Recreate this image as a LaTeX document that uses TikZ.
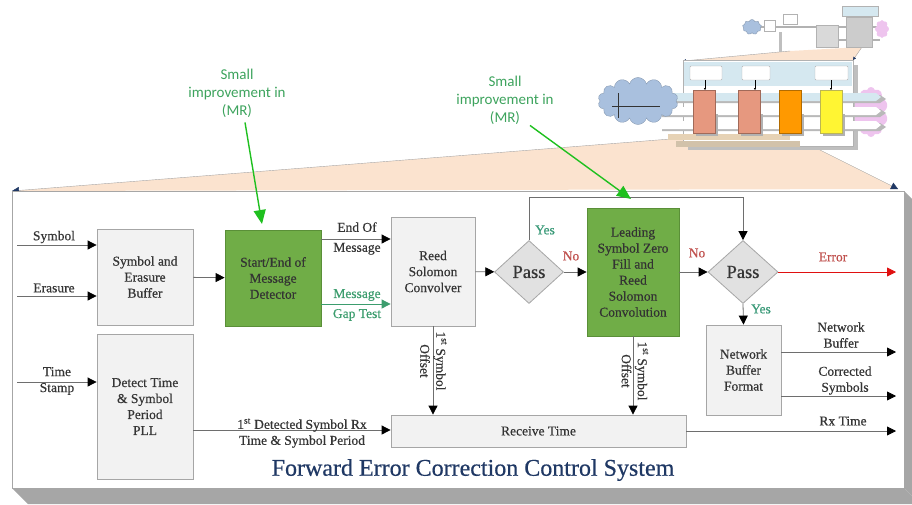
\documentclass[tikz,border=0pt]{standalone}
\usepackage{fontspec}
\setmainfont{Liberation Serif}
\newfontfamily\labelfont{Liberation Serif}[FakeBold=0.5]
\newfontfamily\notefont{Carlito}
\usetikzlibrary{shapes,arrows.meta}
\definecolor{boxgray}{HTML}{F2F2F2}
\definecolor{edgegray}{HTML}{A6A6A6}
\definecolor{linegray}{HTML}{6E6E6E}
\definecolor{txtgray}{HTML}{353535}
\definecolor{fecgreen}{HTML}{70AD47}
\definecolor{fecgreenedge}{HTML}{5A8F38}
\definecolor{notegreen}{HTML}{1FC01F}
\definecolor{notetext}{HTML}{3DA35D}
\definecolor{gapgreen}{HTML}{3C9D6E}
\definecolor{yesteal}{HTML}{3A9A78}
\definecolor{nored}{HTML}{C0504D}
\definecolor{errred}{HTML}{E01010}
\definecolor{titlenavy}{HTML}{1F3864}
\definecolor{peach}{HTML}{FBE3CF}
\definecolor{thumbblue}{HTML}{D5E8F0}
\definecolor{cloudblue}{HTML}{A9C0DE}
\definecolor{cloudpink}{HTML}{EEC4EE}
\definecolor{tanbar}{HTML}{E6D2B5}
\tikzset{every edge/.style={draw=linegray,line width=0.8pt,
		-{Triangle[length=9pt,width=9pt,color=black]}}}
\tikzstyle{block}=[rectangle,draw=edgegray,fill=boxgray,line width=0.8pt,text=txtgray,align=center,inner sep=0pt,font=\labelfont\fontsize{13.5}{16}\selectfont]
\tikzstyle{greenblock}=[block,draw=fecgreenedge,fill=fecgreen,text=black!80]
\tikzstyle{passdiamond}=[diamond,draw=edgegray,fill=boxgray!85!gray,line width=0.8pt,text=txtgray,inner sep=0pt,font=\labelfont\fontsize{18.5}{20}\selectfont]
\tikzstyle{lbl}=[text=txtgray,align=center,inner sep=0pt,font=\labelfont\fontsize{13.5}{16}\selectfont]
\tikzstyle{note}=[text=notetext,align=center,inner sep=0pt,font=\notefont\fontsize{15}{18}\selectfont]
\tikzstyle{chip}=[rectangle,line width=0.5pt,minimum width=22pt,minimum height=43pt]

\begin{document}
\begin{tikzpicture}[x=1pt,y=-1pt]
	\useasboundingbox (0,0) rectangle (912,504);
	\clip (0,0) rectangle (912,504);

	% zoom wedges
	\fill[peach] (12,191) -- (683,138) -- (790,135) -- (898,189) -- cycle;
	\fill[peach] (683,61) -- (790,51) -- (862,47) -- (853,61) -- cycle;
	\draw[gray!70,-{Triangle[length=7pt,width=7pt,color=titlenavy]}] (683,138) -- (12,191);
	\draw[gray!70,-{Triangle[length=7pt,width=7pt,color=titlenavy]}] (790,135) -- (898,189);
	\draw[gray!70,-{Triangle[length=3pt,width=3pt,color=titlenavy]}] (790,51) -- (683,61);
	\draw[gray!70,-{Triangle[length=3pt,width=3pt,color=titlenavy]}] (862,47) -- (853,60);

	% top overview
	\draw[gray!60,line width=1.5pt] (760,27) -- (880,27);
	\draw[gray!60,line width=1.5pt] (838,40) -- (880,40);
	\draw[gray!50,line width=3pt] (780,32) -- (780,52);
	\node[cloud,cloud puffs=9,fill=cloudblue,draw=cloudblue!80!black,minimum width=19pt,minimum height=15pt,inner sep=0pt] (cl0) at (752,27) {};
	\node[rectangle,draw=gray!60,fill=white,minimum width=11pt,minimum height=11pt] (tb0) at (770,26) {};
	\node[rectangle,draw=gray!60,fill=white,minimum width=14pt,minimum height=10pt] (tb1) at (790,19) {};
	\node[rectangle,draw=gray!60,fill=gray!30,minimum width=22pt,minimum height=22pt] (tb2) at (827,36) {};
	\node[rectangle,draw=gray!60,fill=gray!40,minimum width=26pt,minimum height=30pt] (tb3) at (859,32) {};
	\node[rectangle,draw=gray!60,fill=thumbblue,minimum width=36pt,minimum height=10pt] (tb4) at (860,11) {};
	\node[cloud,cloud puffs=8,fill=cloudpink,draw=none,minimum width=14pt,minimum height=18pt,inner sep=0pt] (cl1) at (882,29) {};

	% receiver overview
	\fill[gray!50] (688,65) rectangle (858,150);
	\draw[gray!60,fill=white] (683,60) rectangle (853,146);
	\fill[thumbblue] (684,62) rectangle (852,86);
	\foreach \a/\b in {690/722,742/770,815/848}
		\draw[gray!60,fill=white,rounded corners=1pt] (\a,66) rectangle (\b,80);
	\fill[tanbar] (668,134) rectangle (790,140);
	\fill[tanbar!80!gray] (676,141) rectangle (800,147);
	\node[cloud,cloud puffs=10,fill=cloudpink,draw=none,minimum width=34pt,minimum height=50pt,inner sep=0pt] (cl3) at (871,112) {};
	\foreach \y/\c in {97/thumbblue,111/white,125/white} {
		\fill[gray!55] (662,\y-2) -- (880,\y-2) -- (886,\y+2) -- (880,\y+6) -- (662,\y+6) -- cycle;
		\fill[\c] (660,\y-4) -- (876,\y-4) -- (881,\y) -- (876,\y+4) -- (660,\y+4) -- cycle;
	}
	\node[cloud,cloud puffs=14,fill=cloudblue,draw=cloudblue!80!black,minimum width=80pt,minimum height=47pt,inner sep=0pt] (cl2) at (638,101) {};
	\draw[black!80] (618,93) -- (618,118) (612,106) -- (660,106);
	\foreach \x/\c in {704/red!35!brown!60!white,749/red!35!brown!60!white,790/orange!80!yellow,831/yellow!80!white} {
		\fill[gray!60] (\x-8,114) rectangle (\x+14,136);
		\node[chip,fill=\c,draw=\c!70!black] at (\x,111.5) {};
	}
	\foreach \x in {705,755,831}
		\draw[black,-{Triangle[length=2pt,width=2pt]}] (\x,80) -- (\x,90);

	% panel
	\fill[gray!70] (12,488) -- (904,488) -- (920,504) -- (28,504) -- cycle;
	\fill[gray!70] (904,191) -- (920,207) -- (920,504) -- (904,488) -- cycle;
	\draw[edgegray,fill=white] (12,191) rectangle (904,488);

	% blocks
	\node[block,minimum width=96pt,minimum height=96pt] (buf) at (145,277) {Symbol and\\Erasure\\Buffer};
	\node[greenblock,minimum width=96pt,minimum height=96pt] (sem) at (273,278) {Start/End of\\Message\\Detector};
	\node[block,minimum width=84pt,minimum height=109pt] (rsc) at (433,271.5) {Reed\\Solomon\\Convolver};
	\node[block,minimum width=96pt,minimum height=145pt] (pll) at (145,406.5) {Detect Time\\\& Symbol\\Period\\PLL};
	\node[block,minimum width=295pt,minimum height=32pt] (rxt) at (538.5,431) {Receive Time};
	\node[passdiamond,minimum width=69pt,minimum height=63pt] (pass1) at (529,272) {Pass};
	\node[greenblock,minimum width=92pt,minimum height=128pt] (lsz) at (633,272) {Leading\\Symbol Zero\\Fill and\\Reed\\Solomon\\Convolution};
	\node[passdiamond,minimum width=70pt,minimum height=63pt] (pass2) at (743,272) {Pass};
	\node[block,minimum width=75pt,minimum height=90pt] (nbf) at (743.5,370) {Network\\Buffer\\Format};

	% line ends
	\coordinate (symin) at (17,245);
	\coordinate (erain) at (17,296);
	\coordinate (tsin) at (17,382);
	\coordinate (eom) at (356,239);
	\coordinate (gap) at (356,304);
	\coordinate (ytop) at (743,197);
	\coordinate (errout) at (896,272);
	\coordinate (nbout) at (896,352);
	\coordinate (csout) at (896,396);
	\coordinate (rxout) at (896,431);
	\coordinate (rxline) at (300,430);

	\draw (symin) edge (symin -| buf.west);
	\draw (erain) edge (erain -| buf.west);
	\draw (tsin) edge (tsin -| pll.west);
	\draw (buf) edge (sem);
	\draw (sem.east |- eom) edge (rsc.west |- eom);
	\draw (sem.east |- gap) edge[draw=gapgreen,-{Triangle[length=9pt,width=9pt,color=gapgreen]}] (rsc.west |- gap);
	\draw (rsc) edge (pass1);
	\draw (pass1) edge (lsz);
	\draw[draw=linegray,line width=0.8pt] (pass1.north) |- (ytop);
	\draw (ytop) edge (pass2.north);
	\draw (lsz) edge (pass2);
	\draw (pass2.east) edge[draw=errred,-{Triangle[length=9pt,width=9pt,color=errred]}] (errout);
	\draw (pass2.south) edge (nbf.north);
	\draw (nbf.east |- nbout) edge (nbout);
	\draw (nbf.east |- csout) edge (csout);
	\draw (rxt.east |- rxout) edge (rxout);
	\draw (pll.east |- rxline) edge (rxt.west |- rxline);
	\draw (rsc.south) edge (rsc.south |- rxt.north);
	\draw (lsz.south) edge (lsz.south |- rxt.north);

	% labels
	\node[lbl] (lsym) at (54,237) {Symbol};
	\node[lbl] (lera) at (54,288) {Erasure};
	\node[lbl] (lts) at (57,381) {Time\\Stamp};
	\node[lbl] (leom) at (357,238.5) {End Of\\[4pt]Message};
	\node[lbl,text=gapgreen] (lgap) at (357,305) {Message\\[4pt]Gap Test};
	\node[lbl,text=yesteal] (lyes1) at (545,230) {Yes};
	\node[lbl,text=nored] (lno1) at (571,256) {No};
	\node[lbl,text=nored] (lno2) at (697,253) {No};
	\node[lbl,text=nored] (lerr) at (833,257) {Error};
	\node[lbl,text=yesteal] (lyes2) at (761,309) {Yes};
	\node[lbl] (lnb) at (841,335) {Network\\Buffer};
	\node[lbl] (lcs) at (845,380.5) {Corrected\\Symbols};
	\node[lbl] (lrx) at (843,421) {Rx Time};
	\node[lbl] (ldet) at (302,433) {1\textsuperscript{st} Detected Symbol Rx\\Time \& Symbol Period};
	\node[lbl,rotate=-90] (loff1) at (433.5,361) {1\textsuperscript{st} Symbol\\Offset};
	\node[lbl,rotate=-90] (loff2) at (635,371) {1\textsuperscript{st} Symbol\\Offset};
	\node[text=titlenavy,inner sep=0pt,font=\labelfont\fontsize{24}{28}\selectfont] (title) at (473,470) {Forward Error Correction Control System};

	% notes
	\node[note] (note1) at (237,93) {Small\\improvement in\\(MR)};
	\node[note] (note2) at (505,100) {Small\\improvement in\\(MR)};
	\coordinate (tip1) at (262,224);
	\coordinate (tip2) at (631,199);
	\draw[notegreen,line width=1.4pt,-{Triangle[length=14pt,width=12pt]}] ([xshift=8pt,yshift=-5pt]note1.south) -- (tip1);
	\draw[notegreen,line width=1.4pt,-{Triangle[length=14pt,width=12pt]}] ([xshift=25pt,yshift=-1pt]note2.south) -- (tip2);
\end{tikzpicture}
\end{document}
